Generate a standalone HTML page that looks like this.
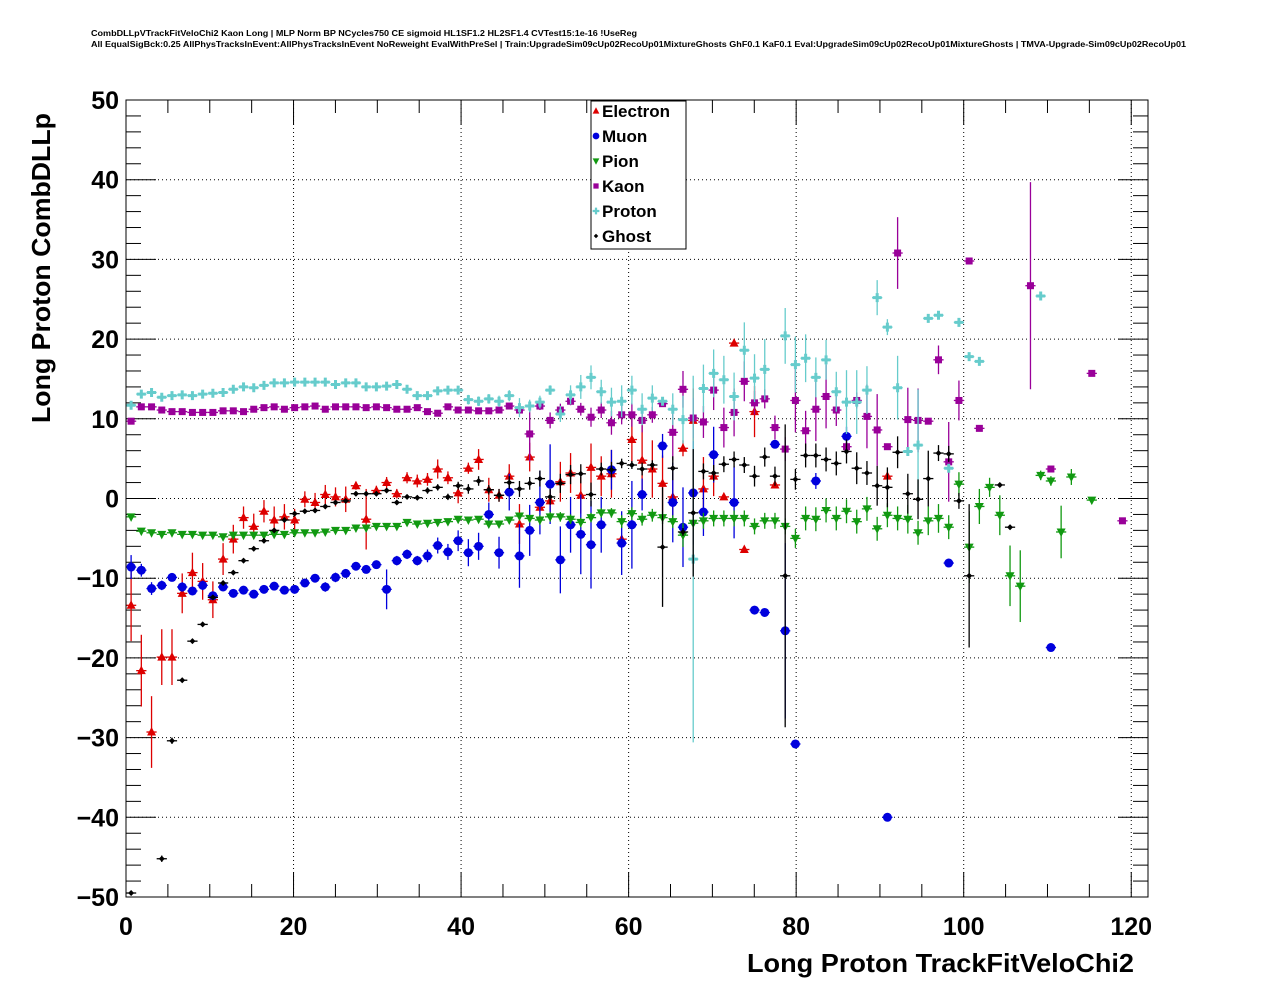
<!DOCTYPE html>
<html><head><meta charset="utf-8"><style>
html,body{margin:0;padding:0;background:#fff}
svg{display:block}
text{font-family:"Liberation Sans",sans-serif;font-weight:bold}
</style></head><body>
<svg id="c" width="1276" height="996" xmlns="http://www.w3.org/2000/svg">
<text x="91" y="36" font-size="8" textLength="546" lengthAdjust="spacingAndGlyphs">CombDLLpVTrackFitVeloChi2 Kaon Long | MLP Norm BP NCycles750 CE sigmoid HL1SF1.2 HL2SF1.4 CVTest15:1e-16 !UseReg</text>
<text x="91" y="47" font-size="8" textLength="1095" lengthAdjust="spacingAndGlyphs">All EqualSigBck:0.25 AllPhysTracksInEvent:AllPhysTracksInEvent NoReweight EvalWithPreSel | Train:UpgradeSim09cUp02RecoUp01MixtureGhosts GhF0.1 KaF0.1 Eval:UpgradeSim09cUp02RecoUp01MixtureGhosts | TMVA-Upgrade-Sim09cUp02RecoUp01</text>
<g id="grid"></g>
<g id="axes"></g>
<g id="marks"></g>
<rect x="126" y="100" width="1022" height="797" fill="none" stroke="#000" stroke-width="1"/>
<text x="1134" y="972" font-size="26" text-anchor="end" textLength="387" lengthAdjust="spacingAndGlyphs">Long Proton TrackFitVeloChi2</text>
<text transform="translate(50,423) rotate(-90)" font-size="26" textLength="310" lengthAdjust="spacingAndGlyphs">Long Proton CombDLLp</text>
<g id="legend">
<rect x="591" y="101" width="95" height="148" fill="#fff" stroke="#000"/>
</g>
</svg>
<script>
const xMin=0,xMax=122,yMin=-50,yMax=50;
const binWidth=1.22;
const xTicks=[0,20,40,60,80,100,120];
const yTicks=[-50,-40,-30,-20,-10,0,10,20,30,40,50];
const seriesNames=["Electron","Muon","Pion","Kaon","Proton","Ghost"];
const electron=[-13.4,-21.6,-29.3,-19.9,-19.9,-11.9,-9.3,-10.4,-12.7,-7.6,-5.1,-2.4,-3.5,-1.6,-2.7,-2.3,-2.7,-0.1,-0.5,0.5,0.2,-0.1,1.6,-2.6,1.0,2.0,0.6,2.6,2.2,2.4,3.7,2.6,0.7,3.8,4.9,1.1,0.4,2.8,-3.2,5.2,-1.1,-0.3,2.1,3.2,0.4,3.9,2.8,3.1,-5.1,7.4,4.8,3.7,1.9,0.2,6.3,9.8,1.2,2.8,0.2,19.5,-6.4,10.9,null,1.7,null,null,null,null,null,null,null,null,null,null,2.8];
const electronErr=[4.5,4.5,4.5,3.5,3.5,2.5,2.5,2.3,2.3,2.0,1.8,1.4,1.6,1.4,1.7,1.6,1.4,1.0,1.2,1.2,1.2,1.6,0.5,3.8,0.6,0.7,0.6,0.7,0.8,0.8,1.2,0.8,1.3,0.7,1.3,1.5,0.8,1.5,2.5,1.8,0.6,1.5,2.5,2.5,2.3,3.0,2.5,3.0,0.5,3.0,4.5,3.6,3.5,3.0,1.0,4.0,4.0,2.5,0.3,0.3,0.3,3.2,0,0.3,0,0,0,0,0,0,0,0,0,0,0.3];
const muon=[-8.6,-9.0,-11.3,-10.9,-9.9,-11.1,-11.6,-10.9,-12.2,-11.1,-11.9,-11.5,-12.0,-11.4,-11.0,-11.5,-11.4,-10.6,-10.0,-11.1,-9.9,-9.4,-8.5,-8.9,-8.3,-11.4,-7.8,-7.0,-7.8,-7.2,-5.9,-6.7,-5.3,-6.8,-6.0,-2.0,-6.8,0.8,-7.2,-4.0,-0.5,1.8,-7.7,-3.3,-4.5,-5.8,-3.3,3.6,-5.6,-3.3,0.5,null,6.6,-0.5,-3.6,0.7,-1.7,5.5,null,-0.5,null,-14.0,-14.3,6.8,-16.6,-30.8,null,2.2,null,null,7.8,null,null,null,-40.0,null,null,null,null,null,-8.1,null,null,null,null,null,null,null,null,null,-18.7];
const muonErr=[1.5,0.8,0.8,0.6,0.5,0.6,0.5,0.6,0.5,0.5,0.5,0.4,0.4,0.4,0.5,0.4,0.4,0.5,0.4,0.6,0.6,0.4,0.4,0.4,0.4,2.5,0.6,0.6,0.6,0.8,1.0,1.0,1.3,1.7,1.7,1.5,2.0,2.3,4.0,3.2,4.0,5.0,4.2,3.5,5.0,5.5,3.5,2.5,4.0,5.5,2.0,0,1.5,5.0,5.0,6.5,3.0,3.5,0,4.5,0,0.3,0.3,0.3,11,0.3,0,1.0,0,0,1.2,0,0,0,0.3,0,0,0,0,0,0.3,0,0,0,0,0,0,0,0,0,0.3];
const pion=[-2.3,-4.1,-4.3,-4.5,-4.3,-4.5,-4.5,-4.6,-4.6,-4.8,-4.6,-4.6,-4.6,-4.6,-4.5,-4.5,-4.3,-4.3,-4.3,-4.2,-4.0,-4.0,-3.7,-3.7,-3.5,-3.5,-3.5,-3.0,-3.2,-3.1,-3.0,-2.9,-2.6,-2.7,-2.6,-3.2,-3.2,-2.7,-2.2,-2.5,-2.7,-2.3,-2.3,-2.6,-3.0,-2.4,-1.8,-1.8,-2.9,-1.9,-2.6,-2.1,-2.4,-2.9,-4.6,-3.1,-2.8,-2.5,-2.5,-2.5,-2.5,-3.5,-2.8,-2.8,-3.5,-5.0,-2.5,-2.6,-1.5,-2.5,-1.6,-2.9,-1.3,-3.8,-2.1,-2.5,-2.6,-4.3,-2.8,-2.5,-3.6,1.8,-6.1,-1.0,1.4,-2.1,-9.7,-11.0,null,2.9,2.2,-4.2,2.7,null,-0.2];
const pionErr=[0.4,0.3,0.3,0.3,0.3,0.3,0.3,0.3,0.3,0.3,0.3,0.3,0.3,0.3,0.3,0.3,0.3,0.3,0.3,0.3,0.3,0.3,0.3,0.3,0.3,0.3,0.3,0.3,0.3,0.3,0.3,0.3,0.3,0.3,0.3,0.4,0.4,0.4,0.4,0.4,0.6,0.6,0.6,0.6,0.6,0.6,0.6,0.6,0.8,0.8,0.8,0.8,0.8,0.8,1.5,1.0,1.0,1.0,1.0,1.0,1.0,1.0,1.0,1.0,1.0,1.2,1.5,1.5,1.5,1.5,1.5,1.5,1.5,1.5,1.5,1.5,1.8,1.5,1.8,1.8,1.5,1.5,4.5,2.2,1.2,2.5,3.8,4.5,0,0.6,0.6,3.3,1.0,0,0.3];
const kaon=[9.7,11.5,11.5,11.1,10.9,10.9,10.8,10.8,10.8,11.0,11.0,10.9,11.2,11.4,11.5,11.2,11.4,11.5,11.6,11.2,11.5,11.5,11.5,11.4,11.5,11.4,11.2,11.2,11.4,10.9,10.7,11.5,11.1,11.1,11.0,11.0,11.1,11.6,11.1,8.1,11.6,9.8,11.1,12.2,11.2,10.2,11.1,9.5,10.5,10.5,9.8,10.5,11.9,8.3,13.7,10.1,9.6,13.6,8.9,10.8,14.7,12.0,12.5,8.9,6.2,12.3,8.5,11.2,12.8,11.1,6.5,12.3,10.3,8.6,6.5,30.8,9.9,9.8,9.7,17.4,4.6,12.3,29.8,8.8,null,null,null,null,26.7,null,3.7,null,null,null,15.7,null,null,-2.8];
const kaonErr=[0.2,0.2,0.2,0.2,0.2,0.2,0.2,0.2,0.2,0.2,0.2,0.2,0.2,0.2,0.2,0.2,0.2,0.2,0.2,0.2,0.2,0.2,0.2,0.2,0.2,0.2,0.2,0.2,0.2,0.3,0.3,0.3,0.3,0.3,0.3,0.3,0.3,0.3,0.3,3.5,0.5,1,0.8,0.5,0.8,1.2,1,1.5,1.2,1.5,1.5,1,0.3,3.5,2.3,2.5,2,2.5,2.5,3,2.5,1.5,1.2,1.5,1.5,4,2.5,4,4,2,0.5,1,4,4.5,0.3,4.5,4,4,0.2,1.8,5,2.5,0.2,0.2,0,0,0,0,13,0,0.2,0,0,0,0.2,0,0,0.2];
const proton=[11.7,13.1,13.3,12.7,12.9,13.0,12.9,13.1,13.2,13.3,13.7,14.0,13.9,14.2,14.5,14.5,14.6,14.6,14.6,14.6,14.3,14.5,14.5,14.0,14.0,14.1,14.3,13.7,12.9,12.9,13.5,13.6,13.6,12.4,12.2,12.5,12.2,12.9,11.4,11.6,12.1,13.6,10.6,13.0,14.0,15.2,13.4,12.1,12.2,13.6,11.2,12.6,12.2,11.2,9.9,-7.6,13.8,15.7,14.9,12.8,18.6,15.1,16.2,null,20.4,16.8,17.6,15.2,17.4,13.4,12.1,12.1,13.6,25.2,21.5,13.9,5.9,6.7,22.6,23.0,3.8,22.1,17.8,17.2,null,null,null,null,null,25.4];
const protonErr=[0.3,0.2,0.2,0.2,0.2,0.2,0.2,0.2,0.2,0.2,0.2,0.2,0.2,0.2,0.2,0.2,0.2,0.2,0.2,0.2,0.2,0.2,0.2,0.2,0.2,0.3,0.3,0.3,0.4,0.4,0.5,0.5,0.5,0.6,0.6,0.6,0.7,0.7,1.2,0.8,0.8,0.6,1,1.2,1.5,1.5,1.5,1.8,2,1.8,2,1.6,0.4,2,3,23,3,3,3,3,3.5,3,3.8,0,3.5,3.5,3,2.5,2.5,2.5,4,4,3,2.2,1,4,0.3,7,0.3,0.3,0.2,0.3,0.3,0.3,0,0,0,0,0,0.3];
const ghost=[-49.5,null,null,-45.2,-30.4,-22.8,-17.9,-15.8,-12.4,-10.6,-9.3,-7.8,-6.3,-5.3,-4.0,-2.7,-1.9,-1.6,-1.5,-1.0,-0.5,-0.3,0.6,0.6,0.6,1.0,-0.5,0.2,0.1,1.0,1.4,0.2,1.6,1.2,2.2,1.1,0.4,2.0,1.2,1.9,2.5,0.2,1.9,3.0,3.1,0.5,3.7,3.6,4.4,4.2,3.7,4.2,-6.1,3.8,-4.2,-1.8,3.4,3.2,4.3,4.9,4.2,2.8,5.2,2.8,-9.7,2.4,5.4,5.4,4.9,4.4,5.9,3.8,3.2,1.6,1.4,5.8,0.6,-0.1,2.5,5.7,5.6,-0.3,-9.7,null,null,1.7,-3.6];
const ghostErr=[0.3,0,0,0.4,0.4,0.3,0.3,0.3,0.3,0.3,0.3,0.3,0.3,0.3,0.3,0.3,0.3,0.3,0.3,0.3,0.3,0.3,0.3,0.3,0.3,0.3,0.3,0.3,0.3,0.4,0.4,0.4,0.5,0.6,0.6,0.6,0.8,0.8,1,0.8,1,1,1.2,1.2,1.2,1.5,0.8,1,0.6,0.5,0.8,0.6,7.5,1.5,0.5,8,1,1,1,1,1,1.3,1.2,1.2,19,1.3,1.5,1.5,1.5,1.5,1.5,2,1.5,2.5,2.5,2,2.5,2.5,3.5,1,1,1,9,0,0,0.3,0.3];

const NS="http://www.w3.org/2000/svg";
const L=126,R=1148,T=100,B=897;
function sx(v){return L+(v-xMin)/(xMax-xMin)*(R-L);}
function sy(v){return B-(v-yMin)/(yMax-yMin)*(B-T);}
function mk(tag,attrs,parent){const e=document.createElementNS(NS,tag);for(const k in attrs)e.setAttribute(k,attrs[k]);parent.appendChild(e);return e;}
const grid=document.getElementById('grid'),axes=document.getElementById('axes'),marks=document.getElementById('marks'),legend=document.getElementById('legend');
// grid
xTicks.forEach(v=>{if(v<=xMin||v>=xMax)return;const l=mk('line',{x1:sx(v),x2:sx(v),y1:T,y2:B,stroke:'#000','stroke-width':1,'stroke-dasharray':'1,3'},grid);

});
yTicks.forEach(v=>{if(v<=yMin||v>=yMax)return;const l=mk('line',{x1:L,x2:R,y1:sy(v),y2:sy(v),stroke:'#000','stroke-width':1,'stroke-dasharray':'1,3'},grid);

});
// x ticks
for(let v=xMin;v<=xMax;v+=5){const major=v%20===0;const len=major?25:13;
mk('line',{x1:sx(v),x2:sx(v),y1:B,y2:B-len,stroke:'#000'},axes);
mk('line',{x1:sx(v),x2:sx(v),y1:T,y2:T+len,stroke:'#000'},axes);}
xTicks.forEach(v=>{const t=mk('text',{x:sx(v),y:935,'font-size':25,'text-anchor':'middle'},axes);t.textContent=v;

});
// y ticks
for(let v=yMin;v<=yMax;v+=2){const major=v%10===0;const len=major?30:15;
mk('line',{x1:L,x2:L+len,y1:sy(v),y2:sy(v),stroke:'#000'},axes);
mk('line',{x1:R,x2:R-len,y1:sy(v),y2:sy(v),stroke:'#000'},axes);}
yTicks.forEach(v=>{const t=mk('text',{x:119,y:sy(v)+9,'font-size':25,'text-anchor':'end'},axes);t.textContent=(v<0?'\u2212'+(-v):v);

});
// markers
const colors={Electron:'#dd0000',Muon:'#0000dd',Pion:'#119911',Kaon:'#990099',Proton:'#66cccc',Ghost:'#000000'};
function marker(name,x,y,g,s){const c=colors[name];s=s||1;
if(name==='Electron')return mk('polygon',{points:`${x},${y-5*s} ${x+4.5*s},${y+3.5*s} ${x-4.5*s},${y+3.5*s}`,fill:c},g);
if(name==='Muon')return mk('circle',{cx:x,cy:y,r:4.5*s,fill:c},g);
if(name==='Pion')return mk('polygon',{points:`${x},${y+5*s} ${x+4.5*s},${y-3.5*s} ${x-4.5*s},${y-3.5*s}`,fill:c},g);
if(name==='Kaon')return mk('rect',{x:x-3.5*s,y:y-3.5*s,width:7*s,height:7*s,fill:c},g);
if(name==='Proton')return mk('path',{d:`M${x-1.5*s},${y-4.5*s}h${3*s}v${3*s}h${3*s}v${3*s}h${-3*s}v${3*s}h${-3*s}v${-3*s}h${-3*s}v${-3*s}h${3*s}z`,fill:c},g);
return mk('path',{d:`M${x},${y-3*s}L${x+3*s},${y}L${x},${y+3*s}L${x-3*s},${y}z`,fill:c},g);}
const seriesVals=[electron,muon,pion,kaon,proton,ghost];
const seriesErrs=[electronErr,muonErr,pionErr,kaonErr,protonErr,ghostErr];
seriesNames.forEach((name,si)=>{
 const g=mk('g',{},marks);
 
 
 const vals=seriesVals[si],errs=seriesErrs[si],c=colors[name];
 vals.forEach((v,i)=>{if(v===null||v===undefined)return;
  const xc=xMin+binWidth*(i+0.5);const px=sx(xc),py=sy(v);const e=errs[i]||0;
  const y1=Math.max(T,Math.min(B,sy(v+e))),y2=Math.max(T,Math.min(B,sy(v-e)));
  if(y2-y1>0.5)mk('line',{x1:px,x2:px,y1:y1,y2:y2,stroke:c,'stroke-width':1.3},g);
  mk('line',{x1:sx(xc-binWidth/2),x2:sx(xc+binWidth/2),y1:py,y2:py,stroke:c,'stroke-width':1.3},g);
  const m=marker(name,px,py,g);
  
  
 });
});
// legend
seriesNames.forEach((name,i)=>{const y=111+i*25;
 const g=mk('g',{},legend);
 
 
 marker(name,596,y,g,0.75);
 const t=mk('text',{x:602,y:y+6,'font-size':17},g);t.textContent=name;});
</script>
</body></html>
